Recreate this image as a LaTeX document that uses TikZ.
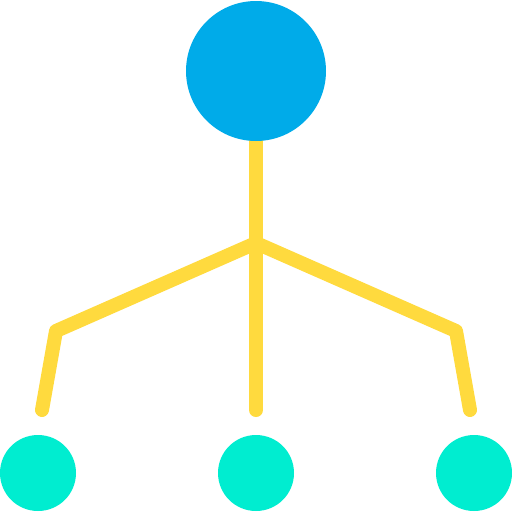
\documentclass[tikz,border=0pt]{standalone}
\definecolor{topblue}{HTML}{00ABE9}
\definecolor{linkyellow}{HTML}{FFDA3E}
\definecolor{leafteal}{HTML}{00EDD0}
\begin{document}
\begin{tikzpicture}[x=1pt,y=-1pt,
  link/.style={draw=linkyellow,line width=14pt,line cap=round,line join=round},
  rootdot/.style={circle,fill=topblue,minimum size=140pt,inner sep=0pt,outer sep=0pt},
  leafdot/.style={circle,fill=leafteal,minimum size=76pt,inner sep=0pt,outer sep=0pt}]
\useasboundingbox (0,0) rectangle (512,512);
\coordinate (hub) at (256,243);
\coordinate (lc) at (56,331);
\coordinate (rc) at (456,331);
\coordinate (le) at (42,410);
\coordinate (me) at (256,410);
\coordinate (re) at (470,410);
\coordinate (rootbase) at (256,130);
\draw[link] (rootbase) -- (me);
\draw[link] (hub) -- (lc) -- (le);
\draw[link] (hub) -- (rc) -- (re);
\node[rootdot] (root) at (256,71) {};
\node[leafdot] (leafl) at (38,473) {};
\node[leafdot] (leafm) at (256,473) {};
\node[leafdot] (leafr) at (474,473) {};
\end{tikzpicture}
\end{document}
